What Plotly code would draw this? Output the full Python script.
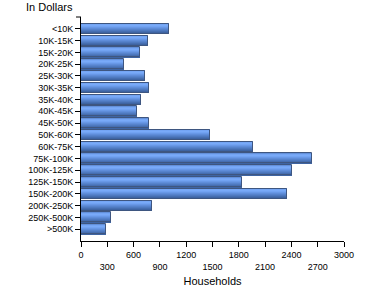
import plotly.graph_objects as go

categories = ["<10K", "10K-15K", "15K-20K", "20K-25K", "25K-30K", "30K-35K",
              "35K-40K", "40K-45K", "45K-50K", "50K-60K", "60K-75K", "75K-100K",
              "100K-125K", "125K-150K", "150K-200K", "200K-250K", "250K-500K", ">500K"]
households = [1005, 769, 677, 495, 734, 780, 689, 643, 780, 1474, 1966, 2639,
              2411, 1841, 2354, 814, 347, 290]
x_ticks = [0, 300, 600, 900, 1200, 1500, 1800, 2100, 2400, 2700, 3000]

FONT = "Liberation Sans, Arial, sans-serif"
BAR_W = 0.85
# vertical gradient (top -> bottom) of each bar
grad = ["#6390da", "#74a5f4", "#79aaf8", "#72a3f2", "#6898e6", "#5f8dd9",
        "#5683cc", "#4e79bf", "#466eb0", "#3e64a2"]

fig = go.Figure()
n = len(grad)
w = BAR_W / n
for i, c in enumerate(grad):
    fig.add_trace(go.Bar(
        x=households, y=categories, orientation="h",
        width=[w] * len(categories), offset=[-BAR_W / 2 + i * w] * len(categories),
        marker=dict(color=c, line=dict(width=0)),
        showlegend=False, hoverinfo="skip"))
fig.add_trace(go.Bar(
    x=households, y=categories, orientation="h",
    width=[BAR_W] * len(categories),
    marker=dict(color="rgba(0,0,0,0)", line=dict(width=1, color="#3e5680")),
    showlegend=False))

ticktext = [("<br>" if k % 2 else "") + str(v) for k, v in enumerate(x_ticks)]

fig.update_layout(
    width=370, height=300,
    margin=dict(l=81, r=26, t=17, b=59),
    paper_bgcolor="white", plot_bgcolor="white",
    barmode="overlay", bargap=0,
    font=dict(family=FONT, size=9, color="#000000"),
    xaxis=dict(range=[0, 3000], tickvals=x_ticks, ticktext=ticktext,
               showgrid=False, zeroline=False, showline=True, linecolor="black",
               linewidth=1, ticks="outside", ticklen=5, tickcolor="black",
               tickfont=dict(size=9), tickangle=0,
               title=dict(text="Households", font=dict(size=11), standoff=6)),
    yaxis=dict(type="category", categoryorder="array", categoryarray=categories,
               range=[18, -1], showgrid=False, zeroline=False, showline=True,
               linecolor="black", linewidth=1, ticks="outside", ticklen=5,
               tickcolor="black", tickfont=dict(size=9)),
    annotations=[dict(text="In Dollars", xref="paper", yref="paper",
                      x=-81 / 263 + 24 / 263, y=1 + 10 / 224, xanchor="left",
                      yanchor="middle", showarrow=False, font=dict(size=11))],
    shapes=[dict(type="line", xref="paper", yref="paper", x0=-5 / 263, x1=0,
                 y0=1, y1=1, line=dict(color="black", width=1))],
)

fig.write_html("out.html")
